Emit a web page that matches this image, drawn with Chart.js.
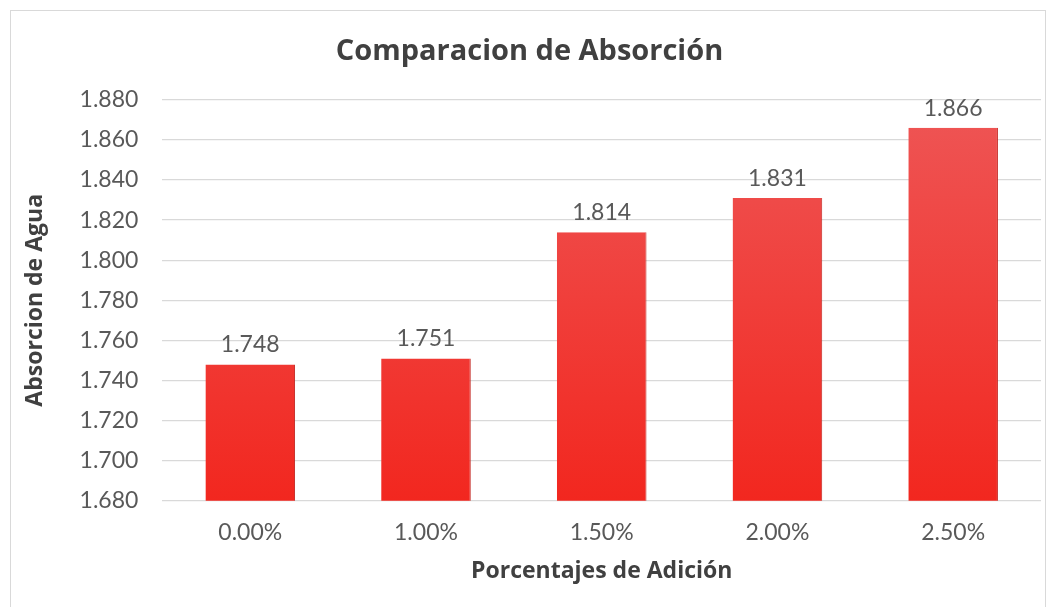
<!DOCTYPE html>
<html>
<head>
<meta charset="utf-8">
<script src="https://cdn.jsdelivr.net/npm/chart.js@4"></script>
<style>
  html, body { margin: 0; padding: 0; background: #fff; }
  #wrap { width: 1055px; height: 607px; position: relative; }
</style>
</head>
<body>
<div id="wrap"><canvas id="chart" width="1055" height="607"></canvas></div>
<script>
Chart.defaults.font.family = "Lato, 'Open Sans', sans-serif";
Chart.defaults.color = '#595959';

const categories = ['0.00%', '1.00%', '1.50%', '2.00%', '2.50%'];
const absorption = [1.748, 1.751, 1.814, 1.831, 1.866];
const yMin = 1.68, yMax = 1.88, yStep = 0.02;

const titleFont = "'Open Sans', Lato, sans-serif";

// red bar gradient, lighter at the top
function barFill(ctx) {
  const { chart } = ctx;
  const area = chart.chartArea;
  if (!area) return '#ee3b35';
  const g = chart.ctx.createLinearGradient(0, area.top, 0, area.bottom);
  g.addColorStop(0, '#ee5656');
  g.addColorStop(1, '#f2271f');
  return g;
}

// outer frame like the spreadsheet chart box
const framePlugin = {
  id: 'frame',
  beforeDraw(chart) {
    const c = chart.ctx;
    c.save();
    c.fillStyle = '#fff';
    c.fillRect(0, 0, chart.width, chart.height);
    c.strokeStyle = '#d9d9d9';
    c.lineWidth = 1;
    c.strokeRect(10.5, 10.5, 1035, 610);
    c.restore();
  }
};

// value labels above each bar
const valueLabels = {
  id: 'valueLabels',
  afterDatasetsDraw(chart) {
    const c = chart.ctx;
    const meta = chart.getDatasetMeta(0);
    c.save();
    c.font = "23px Lato, 'Open Sans', sans-serif";
    c.fillStyle = '#595959';
    c.textAlign = 'center';
    c.textBaseline = 'bottom';
    meta.data.forEach((bar, i) => {
      c.fillText(absorption[i].toFixed(3), bar.x, bar.y - 8);
    });
    c.restore();
  }
};

new Chart(document.getElementById('chart'), {
  type: 'bar',
  data: {
    labels: categories,
    datasets: [{
      data: absorption,
      backgroundColor: barFill,
      borderColor: '#c42a25',
      borderWidth: { right: 1 },
      borderSkipped: false,
      categoryPercentage: 1,
      barPercentage: 0.51,
    }]
  },
  options: {
    responsive: false,
    animation: false,
    layout: { padding: { left: 18, right: 14, top: 28, bottom: 22 } },
    plugins: {
      legend: { display: false },
      tooltip: { enabled: false },
      title: {
        display: true,
        text: 'Comparacion de Absorción',
        color: '#404040',
        font: { family: titleFont, size: 29, weight: 'bold' },
        padding: { top: 6, bottom: 31 }
      }
    },
    scales: {
      x: {
        grid: { display: false, drawTicks: false },
        border: { display: false },
        ticks: { font: { size: 23 }, padding: 18 },
        title: {
          display: true,
          text: 'Porcentajes de Adición',
          color: '#404040',
          font: { family: titleFont, size: 23, weight: 'bold' },
          padding: { top: -7, bottom: 0 }
        }
      },
      y: {
        min: yMin,
        max: yMax,
        grid: { color: '#d9d9d9', drawTicks: false, lineWidth: 1.3 },
        border: { display: false },
        ticks: {
          stepSize: yStep,
          font: { size: 23 },
          padding: 24,
          callback: v => v.toFixed(3)
        },
        title: {
          display: true,
          text: 'Absorcion de Agua',
          color: '#404040',
          font: { family: titleFont, size: 23, weight: 'bold' },
          padding: { bottom: 6 }
        }
      }
    }
  },
  plugins: [framePlugin, valueLabels]
});
</script>
</body>
</html>
